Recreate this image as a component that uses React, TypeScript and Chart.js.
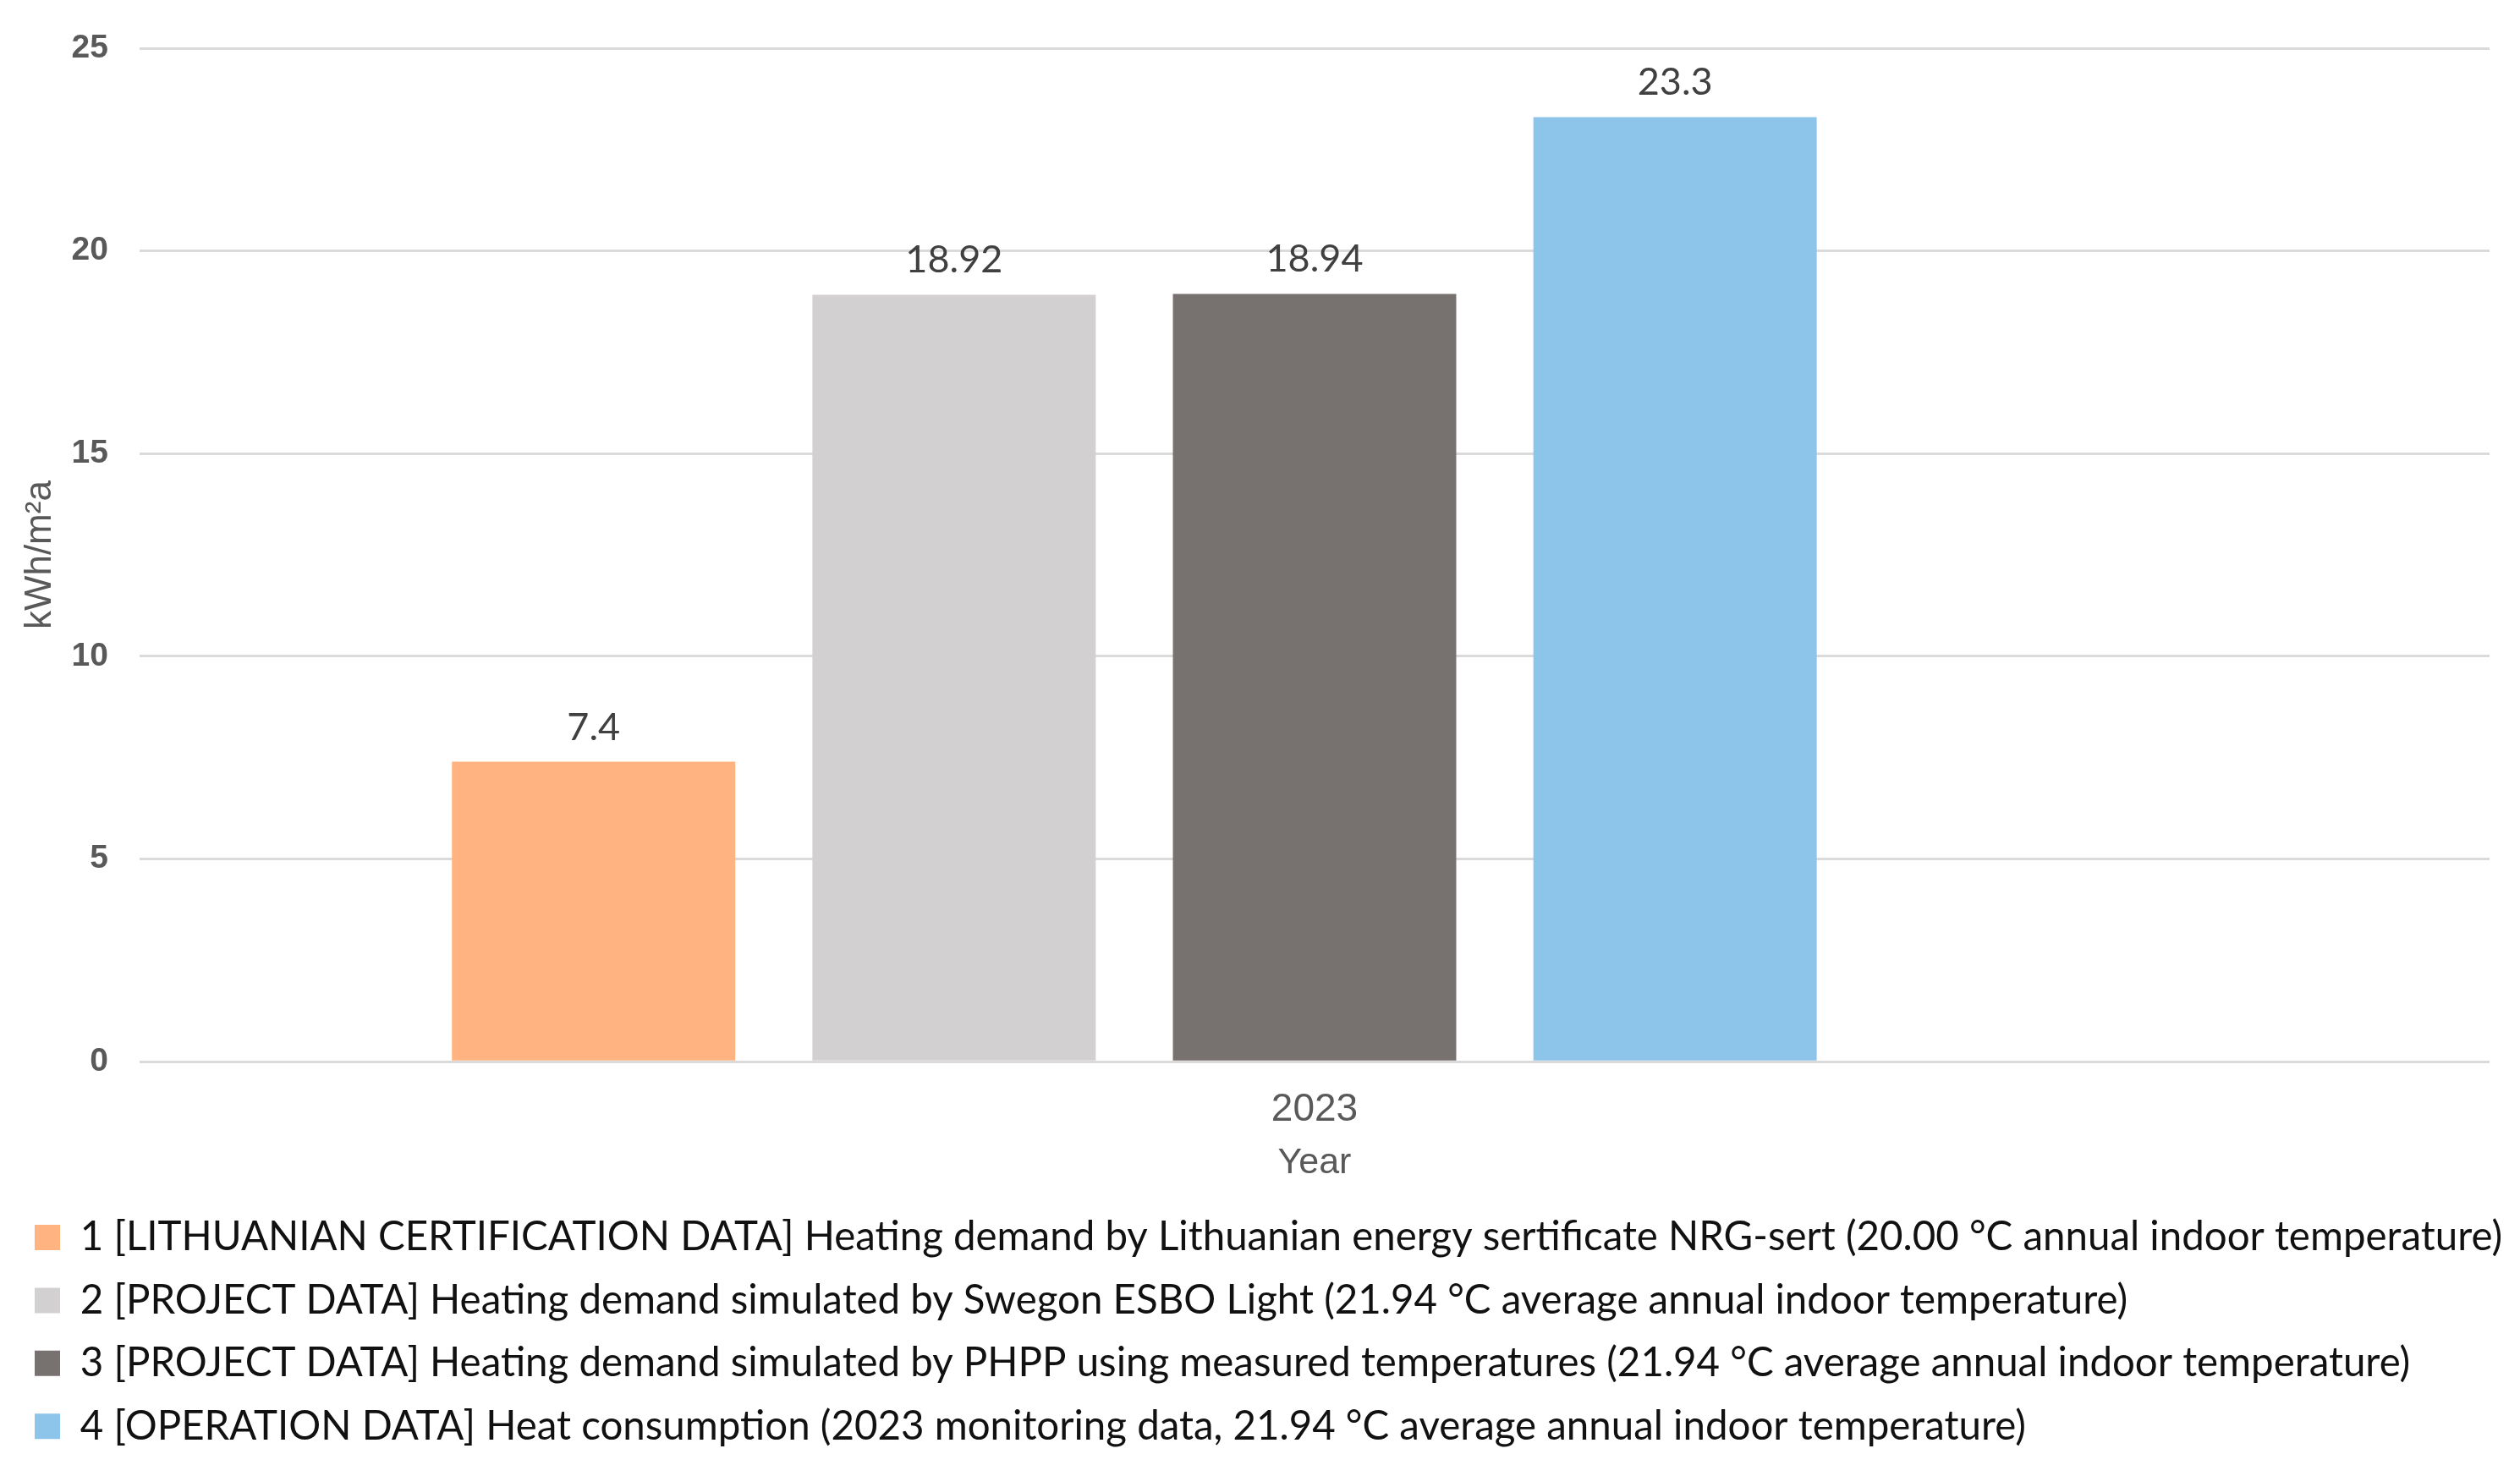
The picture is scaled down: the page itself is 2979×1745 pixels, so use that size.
import React, { useEffect, useRef } from "react";
import { Chart, registerables } from "chart.js";

Chart.register(...registerables);

const CATEGORIES = ["2023"];
const SERIES_LABELS = [
  "1 [LITHUANIAN CERTIFICATION DATA] Heating demand by Lithuanian energy sertificate NRG-sert (20.00 °C annual indoor temperature)",
  "2 [PROJECT DATA] Heating demand simulated by Swegon ESBO Light (21.94 °C average annual indoor temperature)",
  "3 [PROJECT DATA] Heating demand simulated by PHPP using measured temperatures (21.94 °C average annual indoor temperature)",
  "4 [OPERATION DATA] Heat consumption (2023 monitoring data, 21.94 °C average annual indoor temperature)",
];
const SERIES_VALUES = [7.4, 18.92, 18.94, 23.3];
const SERIES_COLORS = ["#FFB381", "#D3D0D1", "#77716F", "#8DC4EA"];
const Y_MIN = 0;
const Y_MAX = 25;
const Y_STEP = 5;
const Y_TITLE = "kWh/m²a";
const X_TITLE = "Year";

const SANS = "'Liberation Sans', Arial, sans-serif";
const LEGEND_FONT = "Lato, 'Open Sans', sans-serif";

const valueLabels = {
  id: "valueLabels",
  afterDatasetsDraw(chart: any) {
    const ctx = chart.ctx;
    ctx.save();
    ctx.font = `45px ${LEGEND_FONT}`;
    ctx.fillStyle = "#404040";
    ctx.textAlign = "center";
    ctx.textBaseline = "alphabetic";
    chart.data.datasets.forEach((ds: any, i: number) => {
      const meta = chart.getDatasetMeta(i);
      meta.data.forEach((el: any, j: number) => {
        const v = ds.data[j];
        if (v === null || v === undefined) return;
        ctx.fillText(String(v), el.x, el.y - 26);
      });
    });
    ctx.restore();
  },
};

export default function App() {
  const ref = useRef<HTMLCanvasElement | null>(null);

  useEffect(() => {
    if (!ref.current) return;
    const m = document.createElement("canvas").getContext("2d")!;
    m.font = `100px ${LEGEND_FONT}`;
    const w = m.measureText(SERIES_LABELS[0]).width;
    const legendSize = Math.max(30, Math.min(48, (100 * 2864) / w));
    const legendPad = Math.round(74 - legendSize);

    const datasets: any[] = SERIES_LABELS.map((label, i) => ({
      label,
      data: [SERIES_VALUES[i]],
      backgroundColor: SERIES_COLORS[i],
      borderWidth: 0,
    }));
    // empty fifth series slot (present in the source chart, no data)
    datasets.push({ label: "", data: [null], backgroundColor: "rgba(0,0,0,0)", borderWidth: 0 });

    const chart = new Chart(ref.current, {
      type: "bar",
      data: { labels: CATEGORIES, datasets },
      plugins: [valueLabels],
      options: {
        animation: false,
        responsive: true,
        maintainAspectRatio: false,
        layout: { padding: { top: 49, right: 0, bottom: 17, left: 6 } },
        datasets: { bar: { barPercentage: 0.786, categoryPercentage: 0.767 } },
        plugins: {
          tooltip: { enabled: false },
          legend: {
            position: "bottom",
            align: "start",
            labels: {
              boxWidth: 30,
              boxHeight: 30,
              padding: legendPad,
              color: "#111111",
              font: { family: LEGEND_FONT, size: legendSize },
              filter: (item: any) => item.datasetIndex < SERIES_LABELS.length,
            },
          },
        },
        scales: {
          x: {
            grid: { display: false, drawTicks: false },
            border: { display: false },
            ticks: {
              color: "#595959",
              font: { family: SANS, size: 46 },
              padding: 30,
              maxRotation: 0,
            },
            title: {
              display: true,
              text: X_TITLE,
              color: "#595959",
              font: { family: SANS, size: 43 },
              padding: { top: 0, bottom: 11 },
            },
            afterFit: (s: any) => {
              s.height = 157;
              s.paddingRight = 28;
            },
          },
          y: {
            min: Y_MIN,
            max: Y_MAX,
            grid: { color: "#DADADA", lineWidth: 3, drawTicks: false },
            border: { display: false },
            ticks: {
              stepSize: Y_STEP,
              color: "#595959",
              font: { family: SANS, size: 39, weight: "bold" },
              padding: 37,
            },
            title: {
              display: true,
              text: Y_TITLE,
              color: "#595959",
              font: { family: SANS, size: 44 },
              padding: { top: 7, bottom: 0 },
            },
            afterFit: (s: any) => {
              s.width = 151;
              s.paddingTop = 0;
              s.paddingBottom = 0;
            },
          },
        },
      } as any,
    });
    return () => chart.destroy();
  }, []);

  return (
    <div style={{ width: 2963, height: 1729, position: "relative" }}>
      <canvas ref={ref} style={{ display: "block" }} />
    </div>
  );
}
